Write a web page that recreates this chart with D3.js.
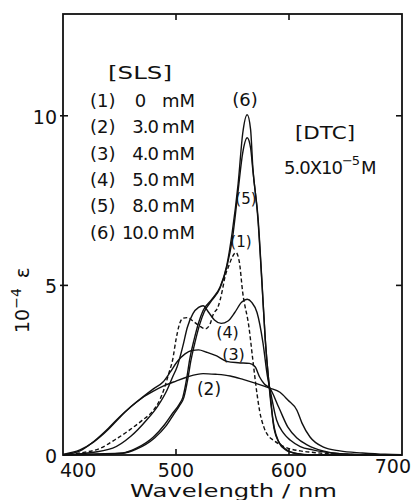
<!DOCTYPE html>
<html>
<head>
<meta charset="utf-8">
<script src="https://cdn.jsdelivr.net/npm/d3@7"></script>
<style>
  html, body { margin: 0; padding: 0; background: #fff; }
  svg { display: block; }
</style>
</head>
<body>
<div id="chart"></div>
<script>
// [wavelength nm, 10^-4 epsilon]
const sls0 = [[400,0],[415,0.06],[433,0.2],[446,0.45],[459,0.74],[470,1.02],[480,1.32],[486,1.65],[490,2.0],[494,2.45],[497,2.8],[500,3.4],[503,3.85],[506,4.03],[510,4.05],[515,3.95],[521,3.8],[526,3.72],[530,3.85],[533,4.15],[537,4.35],[541,4.85],[543,5.2],[547,5.6],[550,5.85],[553,5.97],[556,5.7],[559,4.8],[564.6,3.76],[568,2.8],[571.7,1.8],[574,1.3],[578,0.8],[582,0.55],[586,0.44],[596,0.24],[610,0.12],[620,0.08],[640,0.03],[660,0.01],[700,0]];
const sls3 = [[400,0.02],[415,0.15],[427,0.38],[440,0.75],[450,1.1],[460,1.42],[470,1.68],[480,1.88],[490,2.05],[500,2.18],[510,2.3],[524,2.4],[535,2.38],[548,2.33],[560,2.22],[570,2.12],[583,1.97],[592,1.85],[599,1.62],[607,1.32],[611.5,0.94],[618.6,0.53],[630,0.24],[645,0.12],[665,0.06],[685,0.02],[700,0.01]];
const sls4 = [[400,0.01],[415,0.12],[428,0.42],[440,0.78],[450,1.12],[460,1.42],[471,1.72],[480,1.95],[488.5,2.15],[495,2.45],[501,2.75],[508,2.98],[514,3.08],[520,3.1],[527,3.03],[536,2.92],[545,2.76],[555,2.72],[565,2.7],[570,2.6],[574,2.3],[578,2.1],[583,1.97],[591,1.4],[599,0.82],[607,0.5],[616,0.3],[630,0.12],[645,0.04],[670,0.01],[700,0]];
const sls5 = [[400,0],[420,0.05],[444,0.2],[460,0.55],[474,1.03],[484,1.45],[492,1.91],[497,2.3],[501,2.6],[506,3.2],[510,3.76],[515,4.17],[520,4.35],[524,4.4],[529,4.2],[534,3.98],[540,3.88],[546,3.95],[552,4.2],[558,4.5],[563,4.59],[567,4.5],[571.7,4.2],[577,3.3],[581,2.3],[583,1.97],[589,1.03],[595,0.65],[601,0.44],[610,0.25],[621,0.15],[640,0.05],[660,0.01],[700,0]];
const sls8 = [[400,0],[430,0.02],[453,0.05],[465,0.17],[481,0.5],[491,0.85],[498,1.2],[503,1.45],[507,1.7],[510.5,2.25],[513,2.75],[517,3.35],[521,3.85],[525,4.22],[532,4.57],[539,4.92],[545,5.55],[550,6.4],[555,7.8],[559,8.9],[563,9.35],[566,9.05],[568,8.4],[572.6,6.9],[576,5.1],[579,3.4],[582,2.2],[584,1.5],[587,0.8],[591,0.38],[597,0.15],[607,0.04],[620,0],[700,0]];
const sls10 = [[400,0],[430,0.03],[453,0.06],[465,0.2],[480,0.53],[490,0.9],[497,1.23],[503,1.5],[506,1.7],[509.7,2.3],[512,2.8],[516,3.4],[520,3.9],[524,4.26],[532,4.6],[539,4.95],[545,5.6],[549.6,6.53],[555,8.0],[559,9.47],[563,10.03],[566,9.6],[568,8.47],[572.6,7.0],[576,5.15],[579,3.4],[582,2.2],[584,1.6],[586,0.94],[590,0.44],[596,0.2],[605,0.05],[620,0],[700,0]];

const seriesData = [sls0, sls3, sls4, sls5, sls8, sls10];
const seriesDashed = [true, false, false, false, false, false];

const slsKeys = ['(1)', '(2)', '(3)', '(4)', '(5)', '(6)'];
const slsValues = ['0', '3.0', '4.0', '5.0', '8.0', '10.0'];

// curve tags placed in data units [nm, value]
const curveTags = ['(6)', '(5)', '(1)', '(4)', '(3)', '(2)'];
const curveTagAt = [[561, 10.3], [561.9, 7.4], [557.5, 6.12], [545.6, 3.45], [550.9, 2.8], [529.2, 1.78]];
const curveTagSize = [18, 15, 15, 16, 16, 17];

const xTicks = [400, 500, 600, 700];
const yTicks = [0, 5, 10];

const width = 411;
const height = 500;
const plot = { left: 63, right: 402, top: 14, bottom: 455 };
const font = "'DejaVu Sans', sans-serif";

const x = d3.scaleLinear().domain([400, 700]).range([plot.left, plot.right]);
const y = d3.scaleLinear().domain([0, 13]).range([plot.bottom, plot.top]);

const svg = d3.select('#chart')
  .append('svg')
  .attr('width', width)
  .attr('height', height)
  .attr('font-family', font);

svg.append('rect')
  .attr('width', width)
  .attr('height', height)
  .attr('fill', '#fff');

const line = d3.line()
  .x((d) => x(d[0]))
  .y((d) => y(d[1]))
  .curve(d3.curveMonotoneX);

svg.append('g')
  .selectAll('path')
  .data(seriesData)
  .join('path')
  .attr('d', line)
  .attr('fill', 'none')
  .attr('stroke', '#111')
  .attr('stroke-width', 1.4)
  .attr('stroke-dasharray', (d, i) => (seriesDashed[i] ? '4,2.5' : null));

// frame
svg.append('rect')
  .attr('x', plot.left)
  .attr('y', plot.top)
  .attr('width', plot.right - plot.left)
  .attr('height', plot.bottom - plot.top)
  .attr('fill', 'none')
  .attr('stroke', '#111')
  .attr('stroke-width', 1.8);

// ticks, inward on all four sides
const inner = xTicks.filter((t) => t > 400 && t < 700);
const ticks = svg.append('g').attr('stroke', '#111').attr('stroke-width', 1.6);
inner.forEach((t) => {
  ticks.append('line').attr('x1', x(t)).attr('x2', x(t)).attr('y1', plot.bottom).attr('y2', plot.bottom - 6);
  ticks.append('line').attr('x1', x(t)).attr('x2', x(t)).attr('y1', plot.top).attr('y2', plot.top + 6);
});
yTicks.filter((t) => t > 0).forEach((t) => {
  ticks.append('line').attr('x1', plot.left - 3).attr('x2', plot.left + 5).attr('y1', y(t)).attr('y2', y(t));
  ticks.append('line').attr('x1', plot.right).attr('x2', plot.right - 6).attr('y1', y(t)).attr('y2', y(t));
});

// tick labels
svg.append('g')
  .selectAll('text')
  .data(xTicks)
  .join('text')
  .attr('x', (d) => (d === 400 ? x(d) - 3 : d === 700 ? x(d) + 9 : x(d)))
  .attr('y', (d) => (d === 700 ? 473 : 477))
  .attr('text-anchor', (d) => (d === 400 ? 'start' : d === 700 ? 'end' : 'middle'))
  .attr('font-size', 19)
  .attr('fill', '#111')
  .text((d) => d);

svg.append('g')
  .selectAll('text')
  .data(yTicks)
  .join('text')
  .attr('x', 57)
  .attr('y', (d) => y(d) + 8)
  .attr('text-anchor', 'end')
  .attr('font-size', 19)
  .attr('fill', '#111')
  .text((d) => d);

// axis titles
svg.append('text')
  .attr('x', 130)
  .attr('y', 497)
  .attr('font-size', 18)
  .attr('textLength', 207)
  .attr('lengthAdjust', 'spacingAndGlyphs')
  .attr('fill', '#111')
  .text('Wavelength / nm');

const yTitle = svg.append('text')
  .attr('transform', 'translate(29,333) rotate(-90)')
  .attr('font-size', 19)
  .attr('fill', '#111');
yTitle.append('tspan').text('10');
yTitle.append('tspan').attr('dy', -8).attr('font-size', 14).text('\u22124');
yTitle.append('tspan').attr('dy', 8).attr('dx', 10).attr('font-size', 20).text('\u03b5');

// legend
svg.append('text')
  .attr('x', 108)
  .attr('y', 79)
  .attr('font-size', 18)
  .attr('textLength', 64)
  .attr('lengthAdjust', 'spacingAndGlyphs')
  .attr('fill', '#111')
  .text('[SLS]');

const rows = svg.append('g').attr('font-size', 18).attr('fill', '#111');
slsKeys.forEach((key, i) => {
  const base = 107 + 26.3 * i;
  rows.append('text').attr('x', 90).attr('y', base).text(key);
  rows.append('text')
    .attr('x', slsValues[i] === '0' ? 140 : 158)
    .attr('y', base)
    .attr('text-anchor', slsValues[i] === '0' ? 'middle' : 'end')
    .attr('letter-spacing', -1)
    .text(slsValues[i]);
  rows.append('text').attr('x', 162).attr('y', base).text('mM');
});

// condition note
svg.append('text')
  .attr('x', 295)
  .attr('y', 139)
  .attr('font-size', 18)
  .attr('textLength', 60)
  .attr('lengthAdjust', 'spacingAndGlyphs')
  .attr('fill', '#111')
  .text('[DTC]');

const conc = svg.append('text')
  .attr('x', 284)
  .attr('y', 174)
  .attr('font-size', 18)
  .attr('letter-spacing', -1)
  .attr('fill', '#111');
conc.append('tspan').text('5.0X10');
conc.append('tspan').attr('dy', -9).attr('font-size', 13).text('\u22125');
conc.append('tspan').attr('dy', 9).attr('dx', 2).text('M');

// curve tags
svg.append('g')
  .selectAll('text')
  .data(curveTags)
  .join('text')
  .attr('x', (d, i) => x(curveTagAt[i][0]))
  .attr('y', (d, i) => y(curveTagAt[i][1]))
  .attr('text-anchor', 'middle')
  .attr('font-size', (d, i) => curveTagSize[i])
  .attr('fill', '#111')
  .text((d) => d);
</script>
</body>
</html>
